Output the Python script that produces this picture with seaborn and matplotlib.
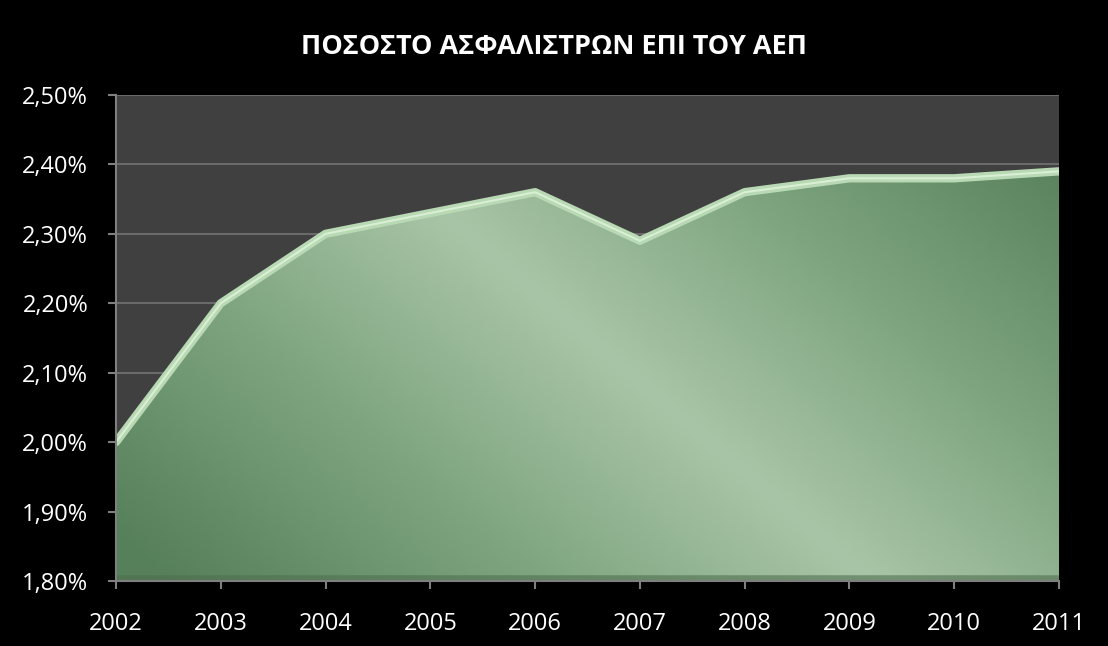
import numpy as np
import pandas as pd
import matplotlib
matplotlib.use("Agg")
import matplotlib.pyplot as plt
import seaborn as sns
from matplotlib.colors import LinearSegmentedColormap
from matplotlib.ticker import FuncFormatter, MultipleLocator

years = [2002, 2003, 2004, 2005, 2006, 2007, 2008, 2009, 2010, 2011]
values = [2.00, 2.20, 2.30, 2.33, 2.36, 2.29, 2.36, 2.38, 2.38, 2.39]
title = "ΠΟΣΟΣΤΟ ΑΣΦΑΛΙΣΤΡΩΝ ΕΠΙ ΤΟΥ ΑΕΠ"

df = pd.DataFrame({"year": years, "value": values})

sns.set_theme(style="dark")
plt.rcParams['font.family'] = ['Open Sans', 'DejaVu Sans']

fig = plt.figure(figsize=(11.08, 6.46), dpi=100, facecolor="black")
ax = fig.add_axes([0.1047, 0.1006, 0.8511, 0.7524])
ax.set_facecolor("#404040")

ymin, ymax = 1.80, 2.50
ax.set_xlim(years[0], years[-1])
ax.set_ylim(ymin, ymax)

# area with gradient fill
poly = ax.fill_between(df["year"], ymin, df["value"], color="none", lw=0, zorder=2)
nx, ny = 400, 200
u = np.linspace(0, 1, nx)
v = np.linspace(0, 1, ny)
U, V = np.meshgrid(u, v)
d = U + 0.6 * V - 0.8
b = np.clip(1 - np.abs(d) / 0.75, 0, 1)
cmap = LinearSegmentedColormap.from_list("g", ["#56805a", "#7ba27c", "#a9c5a7"])
im = ax.imshow(b, cmap=cmap, origin="lower", aspect="auto",
               extent=[years[0], years[-1], ymin, ymax], zorder=2,
               interpolation="bilinear", vmin=0, vmax=1)
im.set_clip_path(poly.get_paths()[0], transform=ax.transData)

# bottom shadow
ax.axhline(ymin + 0.004, color="#4f6f4f", lw=4, alpha=0.6, zorder=3)

# light rim line
sns.lineplot(data=df, x="year", y="value", ax=ax, color="#b8d9b4", lw=6,
             zorder=4, legend=False)
sns.lineplot(data=df, x="year", y="value", ax=ax, color="#d8efd4", lw=1.5,
             zorder=5, legend=False)

ax.yaxis.set_major_locator(MultipleLocator(0.10))
ax.set_xticks(years)
ax.yaxis.set_major_formatter(FuncFormatter(lambda y, p: f"{y:.2f}%".replace(".", ",")))
ax.grid(axis="y", color="#6a6a6a", lw=1.5, zorder=1)
ax.grid(axis="x", visible=False)
ax.set_axisbelow(True)

for s in ["top", "right"]:
    ax.spines[s].set_visible(False)
for s in ["left", "bottom"]:
    ax.spines[s].set_visible(True)
    ax.spines[s].set_color("#7f7f7f")
    ax.spines[s].set_linewidth(1.5)
    ax.spines[s].set_zorder(6)

ax.tick_params(axis="both", colors="#7f7f7f", labelcolor="white", labelsize=17,
               length=6, width=1.5, direction="out", left=True, bottom=True)
ax.tick_params(axis="x", pad=16)
ax.tick_params(axis="y", pad=14)
ax.set_xlabel("")
ax.set_ylabel("")

fig.text(0.5, 1 - 47 / 646, title, ha="center", va="center", color="white",
         fontsize=19.5, fontweight="bold")

fig.savefig("out.png", dpi=100, facecolor="black")
